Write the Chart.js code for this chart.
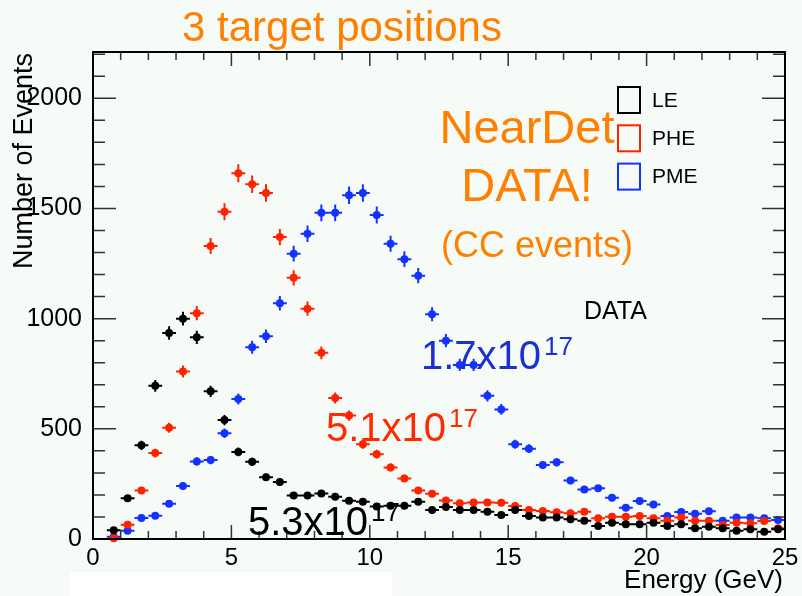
<!DOCTYPE html>
<html>
<head>
<meta charset="utf-8">
<script src="https://cdn.jsdelivr.net/npm/chart.js@4.4.0/dist/chart.umd.min.js"></script>
<style>
  html, body { margin: 0; padding: 0; background: #f7fbf8; }
  #wrap { width: 802px; height: 596px; }
</style>
</head>
<body>
<div id="wrap"><canvas id="fig" width="802" height="596"></canvas></div>
<script>
// bin centres (GeV), 0.5 GeV bins
const energy = [0.75, 1.25, 1.75, 2.25, 2.75, 3.25, 3.75, 4.25, 4.75, 5.25,
  5.75, 6.25, 6.75, 7.25, 7.75, 8.25, 8.75, 9.25, 9.75, 10.25,
  10.75, 11.25, 11.75, 12.25, 12.75, 13.25, 13.75, 14.25, 14.75, 15.25,
  15.75, 16.25, 16.75, 17.25, 17.75, 18.25, 18.75, 19.25, 19.75, 20.25,
  20.75, 21.25, 21.75, 22.25, 22.75, 23.25, 23.75, 24.25, 24.75];

// events per bin for each target position
const le = [40, 185, 425, 695, 935, 1000, 915, 670, 540, 395,
  350, 280, 259, 197, 197, 207, 192, 174, 169, 147,
  151, 151, 169, 132, 145, 132, 132, 124, 109, 132,
  104, 98, 98, 90, 83, 59, 74, 67, 67, 74,
  59, 67, 49, 56, 49, 38, 44, 33, 44];
const phe = [3, 65, 220, 390, 505, 760, 1025, 1330, 1485, 1660,
  1610, 1570, 1370, 1185, 1045, 845, 640, 560, 430, 385,
  325, 275, 220, 205, 175, 162, 166, 166, 165, 150,
  132, 127, 121, 117, 124, 94, 101, 101, 104, 94,
  83, 98, 83, 83, 64, 74, 71, 82, 49];
const pme = [10, 38, 95, 105, 160, 240, 352, 358, 480, 635,
  870, 920, 1070, 1295, 1385, 1480, 1480, 1560, 1570, 1470,
  1340, 1270, 1195, 1020, 900, 790, 790, 650, 588, 430,
  410, 336, 348, 265, 225, 230, 187, 142, 172, 157,
  104, 122, 115, 126, 83, 98, 98, 94, 86];

const seriesNames = ['LE', 'PHE', 'PME'];
const seriesColors = ['#000000', '#ff2200', '#1432ff'];

const xTicks = [0, 5, 10, 15, 20, 25];
const yTicks = [0, 500, 1000, 1500, 2000];

const binHalf = 0.25;
const FONT = "'Liberation Sans', Arial, Helvetica, sans-serif";
const ORANGE = '#ff8000';

function points(vals) {
  return energy.map((e, i) => ({ x: e, y: vals[i] }));
}

// page background, plus the white strip under the axis
const backdrop = {
  id: 'backdrop',
  beforeDraw(chart) {
    const ctx = chart.ctx;
    ctx.save();
    ctx.fillStyle = '#f7fbf8';
    ctx.fillRect(0, 0, chart.width, chart.height);
    ctx.fillStyle = '#ffffff';
    ctx.fillRect(70, 572, 322, 24);
    ctx.restore();
  }
};

// poisson error bars + bin width, drawn under each dataset's markers
const errorBars = {
  id: 'errorBars',
  beforeDatasetDraw(chart, args) {
    const ds = chart.data.datasets[args.index];
    const { ctx, scales: { x, y } } = chart;
    ctx.save();
    ctx.strokeStyle = ds.borderColor;
    ctx.lineWidth = 2;
    ctx.beginPath();
    ds.data.forEach(p => {
      const err = Math.sqrt(p.y);
      const px = x.getPixelForValue(p.x);
      const py = y.getPixelForValue(p.y);
      ctx.moveTo(x.getPixelForValue(p.x - binHalf), py);
      ctx.lineTo(x.getPixelForValue(p.x + binHalf), py);
      ctx.moveTo(px, y.getPixelForValue(p.y - err));
      ctx.lineTo(px, y.getPixelForValue(p.y + err));
    });
    ctx.stroke();
    ctx.restore();
  }
};

// ROOT style frame with ticks on all four sides
const frame = {
  id: 'frame',
  afterDatasetsDraw(chart) {
    const { ctx, chartArea: a, scales: { x, y } } = chart;
    ctx.save();
    ctx.strokeStyle = '#333';
    ctx.lineWidth = 1.5;
    ctx.beginPath();
    for (let v = 0; v <= 25; v++) {
      const px = x.getPixelForValue(v);
      const len = v % 5 === 0 ? 14 : 8;
      ctx.moveTo(px, a.bottom); ctx.lineTo(px, a.bottom - len);
      ctx.moveTo(px, a.top); ctx.lineTo(px, a.top + len);
    }
    for (let v = 0; v <= 2200; v += 100) {
      const py = y.getPixelForValue(v);
      const len = v % 500 === 0 ? 23 : 12;
      ctx.moveTo(a.left, py); ctx.lineTo(a.left + len, py);
      ctx.moveTo(a.right, py); ctx.lineTo(a.right - len, py);
    }
    ctx.stroke();
    ctx.strokeStyle = '#000';
    ctx.lineWidth = 2;
    ctx.strokeRect(a.left, a.top, a.right - a.left, a.bottom - a.top);
    ctx.restore();
  }
};

function powerLabel(ctx, base, exp, x, baseline, color) {
  ctx.fillStyle = color;
  ctx.textAlign = 'left';
  ctx.textBaseline = 'alphabetic';
  ctx.font = '40px ' + FONT;
  ctx.fillText(base, x, baseline);
  const w = ctx.measureText(base).width;
  ctx.font = '26px ' + FONT;
  ctx.fillText(exp, x + w + 3, baseline - 14);
}

const labels = {
  id: 'labels',
  afterDraw(chart) {
    const ctx = chart.ctx;
    ctx.save();

    // title
    ctx.fillStyle = ORANGE;
    ctx.font = '42px ' + FONT;
    ctx.textAlign = 'center';
    ctx.textBaseline = 'alphabetic';
    ctx.fillText('3 target positions', 342, 41);

    // axis titles
    ctx.fillStyle = '#000';
    ctx.font = '26px ' + FONT;
    ctx.textAlign = 'right';
    ctx.fillText('Energy (GeV)', 783, 588);
    ctx.save();
    ctx.translate(32, 53);
    ctx.rotate(-Math.PI / 2);
    ctx.font = '27px ' + FONT;
    ctx.textAlign = 'right';
    ctx.fillText('Number of Events', 0, 0);
    ctx.restore();

    // legend
    chart.data.datasets.forEach((ds, i) => {
      const top = 87 + i * 38.3;
      ctx.strokeStyle = ds.borderColor;
      ctx.lineWidth = 2;
      ctx.strokeRect(618, top, 22, 26);
      ctx.fillStyle = '#000';
      ctx.font = '21px ' + FONT;
      ctx.textAlign = 'left';
      ctx.textBaseline = 'middle';
      ctx.fillText(ds.label, 652, top + 14);
    });

    // notes
    ctx.textBaseline = 'alphabetic';
    ctx.fillStyle = ORANGE;
    ctx.textAlign = 'center';
    ctx.font = '47px ' + FONT;
    ctx.fillText('NearDet', 527, 143);
    ctx.fillText('DATA!', 527, 201);
    ctx.font = '36px ' + FONT;
    ctx.fillText('(CC events)', 537, 257);

    ctx.fillStyle = '#000';
    ctx.textAlign = 'left';
    ctx.font = '25px ' + FONT;
    ctx.fillText('DATA', 584, 319);

    // protons on target per configuration
    powerLabel(ctx, '1.7x10', '17', 421, 369, '#1a30d0');
    powerLabel(ctx, '5.1x10', '17', 326, 441, '#ff2a00');
    powerLabel(ctx, '5.3x10', '17', 248, 535, '#000');

    ctx.restore();
  }
};

const series = [le, phe, pme];

new Chart(document.getElementById('fig'), {
  type: 'scatter',
  data: {
    datasets: series.map((vals, i) => ({
      label: seriesNames[i],
      data: points(vals),
      backgroundColor: seriesColors[i],
      borderColor: seriesColors[i],
      pointRadius: 4,
      pointBorderWidth: 0,
      pointHoverRadius: 4,
      showLine: false,
      clip: false
    }))
  },
  options: {
    responsive: false,
    animation: false,
    events: [],
    layout: { padding: { left: 0, right: 17, top: 52, bottom: 0 } },
    plugins: {
      legend: { display: false },
      tooltip: { enabled: false }
    },
    scales: {
      x: {
        type: 'linear',
        min: 0,
        max: 25,
        afterBuildTicks: s => { s.ticks = xTicks.map(v => ({ value: v })); },
        afterFit: s => { s.height = 57; },
        grid: { display: false },
        border: { display: false },
        ticks: {
          color: '#000',
          font: { size: 24, family: FONT },
          padding: -3,
          maxRotation: 0,
          autoSkip: false,
          callback: v => String(v)
        }
      },
      y: {
        type: 'linear',
        min: 0,
        max: 2210,
        afterBuildTicks: s => { s.ticks = yTicks.map(v => ({ value: v })); },
        afterFit: s => { s.width = 93; },
        grid: { display: false },
        border: { display: false },
        ticks: {
          color: '#000',
          font: { size: 25, family: FONT },
          padding: 3,
          autoSkip: false,
          callback: v => String(v)
        }
      }
    }
  },
  plugins: [backdrop, errorBars, frame, labels]
});
</script>
</body>
</html>
